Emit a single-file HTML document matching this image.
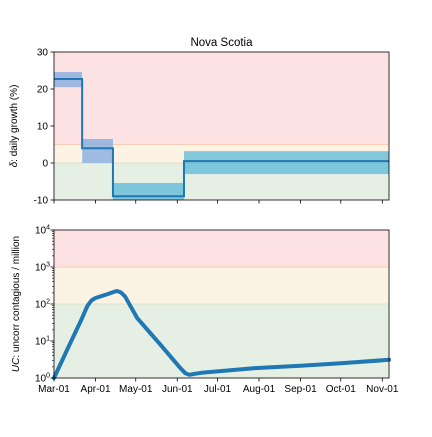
<!DOCTYPE html>
<html><head><meta charset="utf-8"><style>
body{margin:0;background:#fff}
svg{font-family:"Liberation Sans","DejaVu Sans",sans-serif}
</style></head><body>
<svg id="chart" width="432" height="432" viewBox="0 0 432 432" xmlns="http://www.w3.org/2000/svg"></svg>
<script>
const monthLabels=["Mar-01","Apr-01","May-01","Jun-01","Jul-01","Aug-01","Sep-01","Oct-01","Nov-01"];
const monthDays=[0,31,61,92,122,153,184,214,245];
const stepStarts=[0,21,44,97];
const stepEnd=250;
const stepValues=[22.7,4,-9,0.5];
const bandLow=[20.5,0,-10,-3];
const bandHigh=[24.6,6.5,-5.4,3.2];
const curveDays=[0,10,20,25,28,31,40,45,47,50,53,62,80,94,98,101,105,110,150,184,214,250];
const curveValues=[1,6,35,90,125,145,185,215,224,205,160,42,7.5,1.9,1.35,1.22,1.3,1.38,1.85,2.15,2.5,3.1];
const topY=[-10,0,10,20,30];
const botExp=[0,1,2,3,4];

const svg=document.getElementById('chart');
const NS='http://www.w3.org/2000/svg';
const X0=54,X1=389;
const xs=d=>X0+(X1-X0)*d/stepEnd;
const T0=52,T1=200;
const yt=v=>T1-(v+10)/40*(T1-T0);
const B0=230,B1=378;
const yb=v=>B1-Math.log10(v)/4*(B1-B0);
function el(tag,attrs,name,parent){const e=document.createElementNS(NS,tag);for(const k in attrs)e.setAttribute(k,attrs[k]);


(parent||svg).appendChild(e);return e;}
function txt(x,y,s,name,extra){const t=el('text',Object.assign({x:x,y:y,'font-size':10,fill:'#000'},extra||{}),name);t.textContent=s;return t;}

el('rect',{x:X0,y:yt(30),width:X1-X0,height:yt(5)-yt(30),fill:'#fde2e4'},'zone-high');
el('rect',{x:X0,y:yt(5),width:X1-X0,height:yt(0)-yt(5),fill:'#fdf3e4'},'zone-medium');
el('rect',{x:X0,y:yt(0),width:X1-X0,height:yt(-10)-yt(0),fill:'#e5efe3'},'zone-low');
el('line',{x1:X0,x2:X1,y1:yt(5),y2:yt(5),stroke:'#f9ccb4','stroke-width':1},'zone-line');
el('line',{x1:X0,x2:X1,y1:yt(0),y2:yt(0),stroke:'#e0e2c8','stroke-width':1},'zone-line');
for(let i=0;i<stepValues.length;i++){
  const a=stepStarts[i],b=i+1<stepStarts.length?stepStarts[i+1]:stepEnd;
  el('rect',{x:xs(a),y:yt(bandHigh[i]),width:xs(b)-xs(a),height:yt(bandLow[i])-yt(bandHigh[i]),fill:i<2?'#86aee0':'#5bb8d8','fill-opacity':i<2?0.8:0.75},'growth-band');
}
let d='';
for(let i=0;i<stepValues.length;i++){
  const a=stepStarts[i],b=i+1<stepStarts.length?stepStarts[i+1]:stepEnd;
  d+=(i?'L':'M')+xs(a)+','+yt(stepValues[i])+'L'+xs(b)+','+yt(stepValues[i]);
}
el('path',{d:d,fill:'none',stroke:'#1f77b4','stroke-width':2},'growth-line');
el('rect',{x:X0,y:T0,width:X1-X0,height:T1-T0,fill:'none',stroke:'#000','stroke-width':0.8},'top-axes-frame');
topY.forEach(v=>{el('line',{x1:X0-3.5,x2:X0,y1:yt(v),y2:yt(v),stroke:'#000','stroke-width':0.8},'y-tick');
 txt(X0-6,yt(v)+3.5,String(v),'y-tick-label',{'text-anchor':'end'});});
monthDays.forEach(m=>el('line',{x1:xs(m),x2:xs(m),y1:T1,y2:T1+3.5,stroke:'#000','stroke-width':0.8},'x-tick'));
txt((X0+X1)/2,46,'Nova Scotia','chart-title',{'text-anchor':'middle','font-size':11.5});
const t1=txt(0,0,'','top-y-axis-title',{transform:'translate(17,'+(T0+T1)/2+') rotate(-90)','text-anchor':'middle'});
t1.innerHTML='<tspan font-style="italic">δ</tspan>: daily growth (%)';

el('rect',{x:X0,y:B0,width:X1-X0,height:yb(1000)-B0,fill:'#fde2e4'},'zone-high');
el('rect',{x:X0,y:yb(1000),width:X1-X0,height:yb(100)-yb(1000),fill:'#fdf3e4'},'zone-medium');
el('rect',{x:X0,y:yb(100),width:X1-X0,height:B1-yb(100),fill:'#e5efe3'},'zone-low');
el('line',{x1:X0,x2:X1,y1:yb(1000),y2:yb(1000),stroke:'#f9ccb4','stroke-width':1},'zone-line');
el('line',{x1:X0,x2:X1,y1:yb(100),y2:yb(100),stroke:'#e0e2c8','stroke-width':1},'zone-line');
let p='';
curveDays.forEach((dd,i)=>{p+=(i?'L':'M')+xs(dd).toFixed(1)+','+yb(curveValues[i]).toFixed(1);});
el('path',{d:p,fill:'none',stroke:'#1f77b4','stroke-width':4,'stroke-linejoin':'round','stroke-linecap':'round'},'contagious-line');
el('rect',{x:X0,y:B0,width:X1-X0,height:B1-B0,fill:'none',stroke:'#000','stroke-width':0.8},'bottom-axes-frame');
botExp.forEach(e=>{el('line',{x1:X0-3.5,x2:X0,y1:yb(Math.pow(10,e)),y2:yb(Math.pow(10,e)),stroke:'#000','stroke-width':0.8},'y-tick');
 const t=txt(X0-4,yb(Math.pow(10,e))+3.5,'','y-tick-label',{'text-anchor':'end'});t.innerHTML='10<tspan dy="-4" font-size="7">'+e+'</tspan>';
 if(e<4)for(let k=2;k<10;k++)el('line',{x1:X0-2,x2:X0,y1:yb(k*Math.pow(10,e)),y2:yb(k*Math.pow(10,e)),stroke:'#000','stroke-width':0.6},'y-minor-tick');});
monthDays.forEach((m,i)=>{el('line',{x1:xs(m),x2:xs(m),y1:B1,y2:B1+3.5,stroke:'#000','stroke-width':0.8},'x-tick');
 txt(xs(m),B1+14,monthLabels[i],'x-tick-label',{'text-anchor':'middle'});});
const t2=txt(0,0,'','bottom-y-axis-title',{transform:'translate(19,'+(B0+B1)/2+') rotate(-90)','text-anchor':'middle'});
t2.innerHTML='<tspan font-style="italic">UC</tspan>: uncorr contagious / million';
</script>
</body></html>
